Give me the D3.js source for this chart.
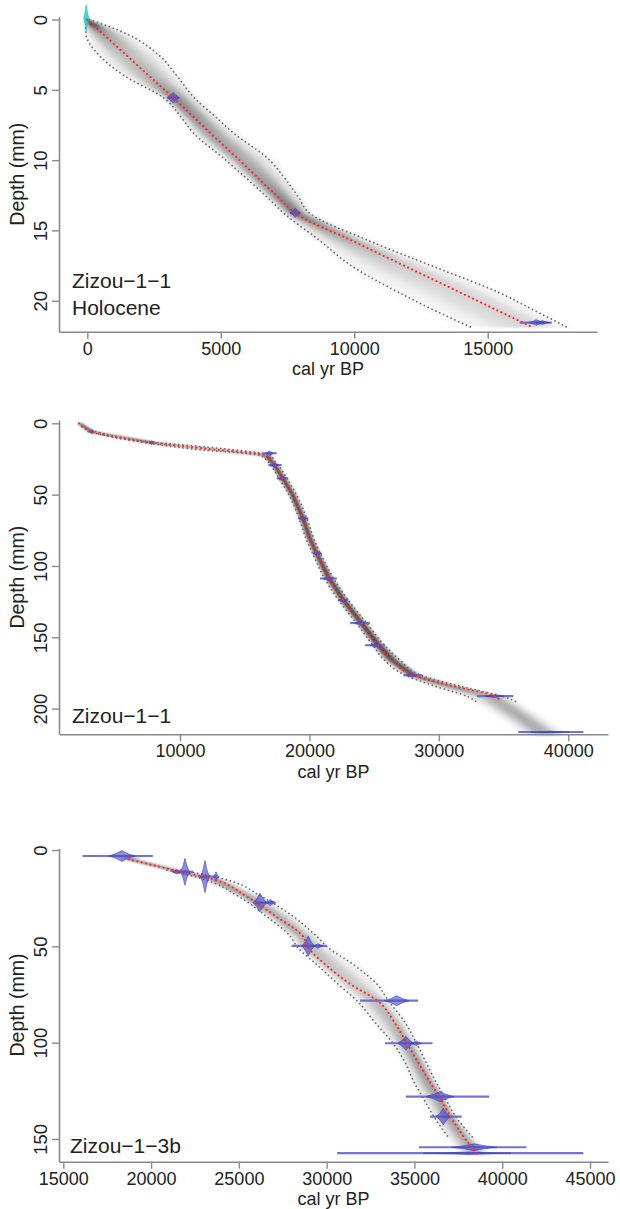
<!DOCTYPE html>
<html><head><meta charset="utf-8">
<script src="https://cdn.jsdelivr.net/npm/d3@7"></script>
<style>
body{margin:0;background:#fff}
svg{display:block}
text{font-family:"Liberation Sans",Arial,Helvetica,sans-serif}
</style>
</head><body>
<svg id="c" width="620" height="1209"></svg>
<script>
// ---------------- DATA ----------------
// Panel 1: Zizou-1-1 Holocene
const p1XTicks = [0, 5000, 10000, 15000];
const p1YTicks = [0, 5, 10, 15, 20];
const p1Depth = [0, 1, 2.6, 4, 5.57, 7, 8.06, 10, 11.15, 12.6, 13.8, 15.66, 17.56, 19.45, 20.64, 21.9];
const p1Mean  = [0, 578, 1503, 2312, 3220, 4016, 4606, 5700, 6326, 7133, 7800, 9844, 11932, 14010, 15315, 16700];
const p1Young = [-60, -50, 475, 1390, 2860, 3540, 3970, 5190, 5880, 6720, 7380, 8670, 9930, 11710, 12960, 14400];
const p1Old   = [80, 1450, 2720, 3350, 4010, 4850, 5470, 6830, 7340, 7900, 8340, 10460, 12960, 15460, 16700, 18000];
const p1DateDepth = [5.57, 13.75, 21.55];
const p1DateMin   = [3000, 7600, 16200];
const p1DateMax   = [3440, 7980, 17400];
const p1PeakDepth = [5.57, 13.75, 21.55, 21.55];
const p1PeakAge   = [3220, 7790, 16830, 17050];
const p1PeakHW    = [230, 190, 300, 250];
const p1PeakHH    = [0.38, 0.33, 0.2, 0.14];
const p1SurfaceDepth = [-0.1];
const p1SurfaceAge   = [-40];
const p1SurfaceHW    = [95];
const p1SurfaceHH    = [0.95];
const p1Labels = ["Zizou\u22121\u22121", "Holocene"];

// Panel 2: Zizou-1-1
const p2XTicks = [10000, 20000, 30000, 40000];
const p2YTicks = [0, 50, 100, 150, 200];
const p2Depth = [0, 5.9, 13.6, 18, 22.5, 25, 29.3, 38.6, 50, 66.7, 80, 91.2, 107.6, 124, 140.3, 155.6, 166, 176.6, 184, 191.9, 195.4];
const p2Mean  = [2200, 3180, 7810, 12200, 16700, 16900, 17300, 17950, 18700, 19500, 20000, 20560, 21460, 22620, 24040, 25330, 26400, 28030, 31000, 34470, 34730];
const p2Young = [2000, 2900, 7300, 10900, 16200, 16600, 17000, 17650, 18400, 19200, 19700, 20250, 21100, 22250, 23650, 24900, 25800, 27400, 29600, 32300, 32930];
const p2Old   = [2450, 3500, 8300, 13500, 17100, 17200, 17600, 18250, 19000, 19800, 20300, 20850, 21800, 23000, 24450, 25800, 27000, 28600, 31500, 35100, 36020];
const p2TailDepth = [195.4, 205, 212, 218];
const p2TailMean  = [34730, 36200, 37300, 38200];
const p2TailYoung = [33200, 34700, 35800, 36700];
const p2TailOld   = [36300, 37700, 38800, 39700];
const p2DateDepth = [5.9, 13.6, 21, 29.3, 38.6, 66.7, 91.2, 108.8, 124, 140, 155.6, 176.6, 191.2, 216.4];
const p2DateMin   = [3000, 7600, 16440, 16820, 17470, 19140, 20300, 20820, 22240, 23140, 24300, 27260, 32930, 36140];
const p2DateMax   = [3360, 8020, 17470, 17860, 18370, 19920, 20950, 22110, 23010, 24680, 25840, 28680, 35760, 41170];
const p2PeakDepth = p2DateDepth;
const p2PeakAge   = [3180, 7810, 16900, 17300, 17900, 19500, 20600, 21450, 22600, 23900, 25100, 27900, 34300, 38600];
const p2PeakHW    = [180, 180, 300, 300, 300, 300, 300, 350, 300, 400, 400, 400, 700, 1500];
const p2PeakHH    = [1.4, 1.4, 1.6, 1.6, 1.6, 1.6, 1.6, 1.5, 1.5, 1.4, 1.4, 1.3, 1.0, 0.5];
const p2Labels = ["Zizou\u22121\u22121"];

// Panel 3: Zizou-1-3b
const p3XTicks = [15000, 20000, 25000, 30000, 35000, 40000, 45000];
const p3YTicks = [0, 50, 100, 150];
const p3Depth = [3.0, 4.8, 10.4, 15.2, 24.2, 34.6, 45, 50, 60, 70, 78, 90, 100, 110, 120, 128, 139, 150, 158];
const p3Mean  = [18600, 18720, 21270, 23540, 25440, 27150, 28670, 28900, 30000, 31420, 32860, 33900, 34550, 35200, 35850, 36420, 37100, 37900, 38600];
const p3Young = [17900, 18400, 20900, 23000, 25000, 26600, 27950, 28300, 29500, 30700, 31700, 32800, 33750, 34450, 34950, 35450, 36150, 37000, 37700];
const p3Old   = [19800, 19200, 21700, 24200, 26300, 28100, 29450, 30000, 31600, 32900, 33500, 34500, 35100, 35650, 36200, 36700, 37400, 38400, 39300];
const p3DateDepth = [3.1, 11.3, 13.8, 27.3, 49.8, 78.2, 100.3, 128, 138.4, 154.3, 157.4];
const p3DateMin   = [16100, 21250, 22700, 25900, 28000, 31900, 33320, 34510, 35880, 35260, 30600];
const p3DateMax   = [20100, 22400, 23750, 27050, 30000, 35210, 36030, 39260, 37690, 41380, 44620];
const p3PeakDepth = [3.1, 11.3, 11.3, 13.8, 13.8, 27.3, 27.3, 49.8, 49.8, 78.2, 100.3, 100.3, 128, 138.4, 154.3, 157.4];
const p3PeakAge   = [18330, 21930, 21450, 23070, 23700, 26200, 26800, 28950, 29500, 33990, 34510, 35100, 36450, 36640, 38400, 38000];
const p3PeakHW    = [750, 250, 250, 250, 150, 400, 300, 350, 300, 700, 450, 300, 800, 400, 1300, 2500];
const p3PeakHH    = [2.8, 7, 1.2, 8.3, 2.5, 4.8, 1.5, 5.2, 1.2, 2.6, 3.6, 1.2, 2.6, 4.3, 1.8, 0.6];
const p3Labels = ["Zizou\u22121\u22123b"];

const xTitle = "cal yr BP";
const yTitle = "Depth (mm)";

// ---------------- RENDER ----------------
const svg = d3.select("#c");
const defs = svg.append("defs");
const gStops = [[0, 0.0], [0.23, 0.13], [0.45, 0.36], [0.7, 0.75], [0.88, 0.95], [1, 1]];
const rise = defs.append("linearGradient").attr("id", "rise").attr("x1", 0).attr("x2", 1).attr("y1", 0).attr("y2", 0);
gStops.forEach(s => rise.append("stop").attr("offset", s[0]).attr("stop-color", "#000").attr("stop-opacity", s[1]));
const fall = defs.append("linearGradient").attr("id", "fall").attr("x1", 0).attr("x2", 1).attr("y1", 0).attr("y2", 0);
gStops.slice().reverse().forEach(s => fall.append("stop").attr("offset", 1 - s[0]).attr("stop-color", "#000").attr("stop-opacity", s[1]));
defs.append("filter").attr("id", "blur").attr("x", "-20%").attr("y", "-20%").attr("width", "140%").attr("height", "140%")
  .append("feGaussianBlur").attr("stdDeviation", 1.1);

const FONT = '"Liberation Sans",Arial,Helvetica,sans-serif';
const AXIS_COL = "#8a8a8a";
const TICK_FS = 18, TITLE_FS = 18, LABEL_FS = 21;

function interp(ds, vs, d) {
  if (d <= ds[0]) return vs[0];
  const n = ds.length;
  if (d >= ds[n - 1]) return vs[n - 1];
  const i = d3.bisectRight(ds, d) - 1;
  const t = (d - ds[i]) / (ds[i + 1] - ds[i]);
  return vs[i] + t * (vs[i + 1] - vs[i]);
}

const panels = [
  { xDomain: [-1060, 19095], xRange: [59, 597], yDomain: [-0.2, 22.2], yRange: [16.7, 331.7],
    xTicks: p1XTicks, yTicks: p1YTicks, k: 16, meanFrom: 0,
    depth: p1Depth, mean: p1Mean, young: p1Young, old: p1Old, boundsFrom: 0, boundsTo: 99,
    tail: null,
    dates: { depth: p1DateDepth, min: p1DateMin, max: p1DateMax },
    peaks: { depth: p1PeakDepth, age: p1PeakAge, hw: p1PeakHW, hh: p1PeakHH },
    surface: { depth: p1SurfaceDepth, age: p1SurfaceAge, hw: p1SurfaceHW, hh: p1SurfaceHH },
    labels: p1Labels, labelX: 72, labelY: [288.3, 315] },
  { xDomain: [651, 43068], xRange: [59, 608], yDomain: [-2.3, 218], yRange: [420, 734.3],
    xTicks: p2XTicks, yTicks: p2YTicks, k: 13, meanFrom: 0,
    depth: p2Depth, mean: p2Mean, young: p2Young, old: p2Old, boundsFrom: 1, boundsTo: 999,
    tail: { depth: p2TailDepth, mean: p2TailMean, young: p2TailYoung, old: p2TailOld },
    dates: { depth: p2DateDepth, min: p2DateMin, max: p2DateMax },
    peaks: { depth: p2PeakDepth, age: p2PeakAge, hw: p2PeakHW, hh: p2PeakHH },
    surface: null,
    labels: p2Labels, labelX: 72, labelY: [723.3] },
  { xDomain: [14755, 46024], xRange: [59, 608], yDomain: [-0.9, 161.8], yRange: [848.3, 1161.7],
    xTicks: p3XTicks, yTicks: p3YTicks, k: 8.5, meanFrom: 4.8,
    depth: p3Depth, mean: p3Mean, young: p3Young, old: p3Old, boundsFrom: 10, boundsTo: 150,
    tail: null,
    dates: { depth: p3DateDepth, min: p3DateMin, max: p3DateMax },
    peaks: { depth: p3PeakDepth, age: p3PeakAge, hw: p3PeakHW, hh: p3PeakHH },
    surface: null,
    labels: p3Labels, labelX: 70, labelY: [1153.3] }
];

function blobPath(x, y, a, d, hw, hh) {
  const cx = x(a), cy = y(d);
  const l = x(a - hw), r = x(a + hw), t = y(d - hh), b = y(d + hh);
  const c = 0.38;
  const qx = v => cx + (v - cx) * c;
  return `M${l},${cy}Q${qx(l)},${cy + (t - cy) * c} ${cx},${t}Q${qx(r)},${cy + (t - cy) * c} ${r},${cy}` +
         `Q${qx(r)},${cy + (b - cy) * c} ${cx},${b}Q${qx(l)},${cy + (b - cy) * c} ${l},${cy}Z`;
}

panels.forEach(p => {
  const x = d3.scaleLinear().domain(p.xDomain).range(p.xRange);
  const y = d3.scaleLinear().domain(p.yDomain).range(p.yRange);
  const g = svg.append("g");

  // ---- grey density shading (row by row) ----
  let sD = p.depth.slice(), sM = p.mean.slice(), sY = p.young.slice(), sO = p.old.slice();
  if (p.tail) {
    const s = p.tail.depth[0] === sD[sD.length - 1] ? 1 : 0;
    sD = sD.concat(p.tail.depth.slice(s)); sM = sM.concat(p.tail.mean.slice(s));
    sY = sY.concat(p.tail.young.slice(s)); sO = sO.concat(p.tail.old.slice(s));
  }
  const shade = g.append("g").attr("filter", "url(#blur)");
  const rows = [];
  const y0 = y(sD[0]), y1 = y(sD[sD.length - 1]);
  for (let py = y0; py < y1; py += 1) {
    const d = y.invert(py + 0.5);
    const m = x(interp(sD, sM, d)), lo = x(interp(sD, sY, d)), hi = x(interp(sD, sO, d));
    const w = Math.max(hi - lo, 1);
    const op = Math.min(0.95, p.k / w);
    const xl = m - 1.3 * (m - lo), xr = m + 1.3 * (hi - m);
    rows.push({ py, m, xl, xr, op });
  }
  shade.selectAll("rect.l").data(rows).join("rect").attr("class", "l")
    .attr("x", r => r.xl).attr("y", r => r.py).attr("width", r => Math.max(r.m - r.xl, 0.01)).attr("height", 1.05)
    .attr("fill", "url(#rise)").attr("opacity", r => r.op);
  shade.selectAll("rect.r").data(rows).join("rect").attr("class", "r")
    .attr("x", r => r.m).attr("y", r => r.py).attr("width", r => Math.max(r.xr - r.m, 0.01)).attr("height", 1.05)
    .attr("fill", "url(#fall)").attr("opacity", r => r.op);

  // ---- grey dotted 95% bounds ----
  const idx = d3.range(p.depth.length).filter(i => p.depth[i] >= p.boundsFrom && p.depth[i] <= p.boundsTo);
  const lineY = d3.line().x(i => x(p.young[i])).y(i => y(p.depth[i])).curve(d3.curveMonotoneY);
  const lineO = d3.line().x(i => x(p.old[i])).y(i => y(p.depth[i])).curve(d3.curveMonotoneY);
  [lineY, lineO].forEach(ln => g.append("path").attr("d", ln(idx)).attr("fill", "none")
    .attr("stroke", "#6a6a6a").attr("stroke-width", 1.7).attr("stroke-linecap", "round")
    .attr("stroke-dasharray", "0.1 4.1"));

  // ---- dates ----
  const dg = g.append("g");
  dg.selectAll("line").data(d3.range(p.dates.depth.length)).join("line")
    .attr("x1", i => x(p.dates.min[i])).attr("x2", i => x(p.dates.max[i]))
    .attr("y1", i => y(p.dates.depth[i])).attr("y2", i => y(p.dates.depth[i]))
    .attr("stroke", "#6464d2").attr("stroke-opacity", 0.9).attr("stroke-width", 2.2);
  dg.selectAll("path").data(d3.range(p.peaks.depth.length)).join("path")
    .attr("d", i => blobPath(x, y, p.peaks.age[i], p.peaks.depth[i], p.peaks.hw[i], p.peaks.hh[i]))
    .attr("fill", "rgba(72,72,200,0.62)").attr("stroke", "rgba(60,60,185,0.75)").attr("stroke-width", 0.8);
  if (p.surface) {
    g.selectAll("path.surf").data(d3.range(p.surface.depth.length)).join("path").attr("class", "surf")
      .attr("d", i => blobPath(x, y, p.surface.age[i], p.surface.depth[i], p.surface.hw[i], p.surface.hh[i]))
      .attr("fill", "rgba(40,200,200,0.8)").attr("stroke", "rgba(40,190,190,0.85)").attr("stroke-width", 0.8);
  }

  // ---- red mean line ----
  const lineM = d3.line().x(i => x(p.mean[i])).y(i => y(p.depth[i])).curve(d3.curveMonotoneY);
  const mIdx = d3.range(p.depth.length).filter(i => p.depth[i] >= p.meanFrom);
  g.append("path").attr("d", lineM(mIdx)).attr("fill", "none")
    .attr("stroke", "#ff2a2a").attr("stroke-width", 2.1).attr("stroke-linecap", "round")
    .attr("stroke-dasharray", "0.1 4.4");

  // ---- axes ----
  const bottom = p.yRange[1];
  const gx = g.append("g").attr("transform", `translate(0,${bottom})`)
    .call(d3.axisBottom(x).tickValues(p.xTicks).tickSize(7).tickSizeOuter(0).tickFormat(d3.format("d")));
  gx.attr("font-size", TICK_FS).attr("font-family", FONT).attr("color", AXIS_COL);
  gx.select(".domain").attr("stroke-width", 1.6);
  gx.selectAll(".tick line").attr("stroke-width", 1.4);
  gx.selectAll(".tick text").attr("y", 23.2).attr("dy", null).attr("fill", "#222");

  const gy = g.append("g").attr("transform", `translate(${p.xRange[0]},0)`)
    .call(d3.axisLeft(y).tickValues(p.yTicks).tickSize(7).tickSizeOuter(0).tickFormat(d3.format("d")));
  gy.attr("font-size", 18.5).attr("font-family", FONT).attr("color", AXIS_COL);
  gy.select(".domain").attr("stroke-width", 1.6);
  gy.selectAll(".tick line").attr("stroke-width", 1.4);
  gy.selectAll(".tick text").attr("transform", "rotate(-90)").attr("x", 0).attr("y", -12.5)
    .attr("dy", null).attr("text-anchor", "middle").attr("fill", "#222");

  // ---- titles ----
  g.append("text").attr("x", (p.xRange[0] + p.xRange[1]) / 2).attr("y", bottom + 43.2)
    .attr("text-anchor", "middle").attr("font-size", TITLE_FS).attr("fill", "#222").text(xTitle);
  g.append("text").attr("transform", `translate(24,${(p.yRange[0] + p.yRange[1]) / 2}) rotate(-90)`)
    .attr("text-anchor", "middle").attr("font-size", 19.5).attr("fill", "#222").text(yTitle);

  p.labels.forEach((t, i) => g.append("text").attr("x", p.labelX).attr("y", p.labelY[i])
    .attr("font-size", LABEL_FS).attr("fill", "#222").text(t));
});
</script>
</body></html>
